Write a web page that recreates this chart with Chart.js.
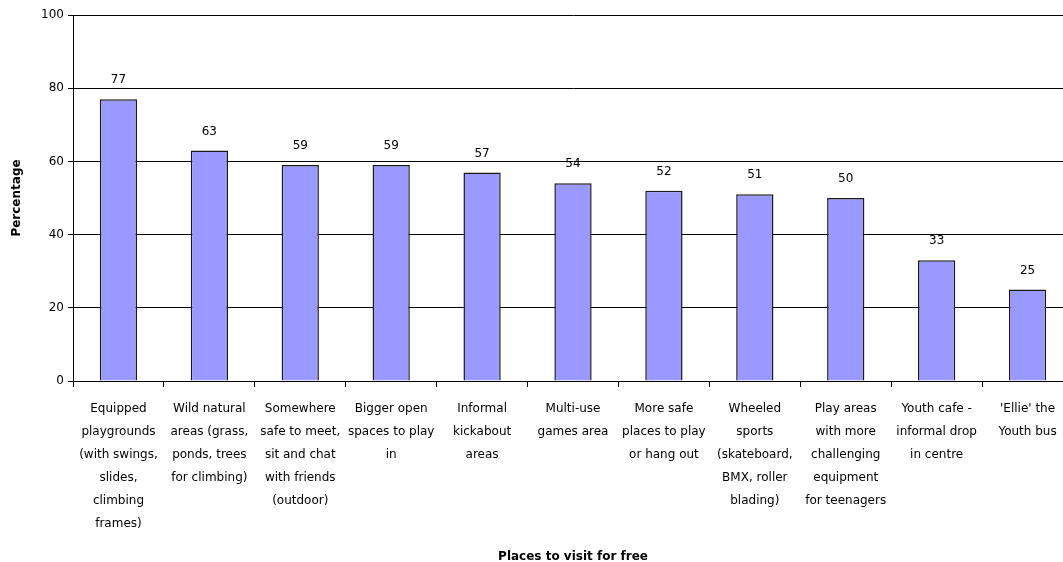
<!DOCTYPE html>
<html lang="en"><head>
<meta charset="utf-8">
<title>Places to visit for free</title>
<script src="https://cdn.jsdelivr.net/npm/chart.js@4"></script>
<style>
*{box-sizing:border-box;margin:0;padding:0}
html,body{width:1063px;height:562px;overflow:hidden;background:#fff}
.wrap{position:relative;width:1073px;height:562px}
</style></head><body>
<div class="wrap"><canvas id="c"></canvas></div>
<script>
const places=[
  ['Equipped','playgrounds','(with swings,','slides,','climbing','frames)'],
  ['Wild natural','areas (grass,','ponds, trees','for climbing)'],
  ['Somewhere','safe to meet,','sit and chat','with friends','(outdoor)'],
  ['Bigger open','spaces to play','in'],
  ['Informal','kickabout','areas'],
  ['Multi-use','games area'],
  ['More safe','places to play','or hang out'],
  ['Wheeled','sports','(skateboard,','BMX, roller','blading)'],
  ['Play areas','with more','challenging','equipment','for teenagers'],
  ['Youth cafe -','informal drop','in centre'],
  ["'Ellie' the",'Youth bus']
];
const percentage=[77,63,59,59,57,54,52,51,50,33,25];
const yTicks=[0,20,40,60,80,100];

const font='"DejaVu Sans", Verdana, sans-serif';

// value labels above each bar
const valueLabels={
  id:'valueLabels',
  afterDatasetsDraw(chart){
    const ctx=chart.ctx;
    const meta=chart.getDatasetMeta(0);
    ctx.save();
    ctx.font='12px '+font;
    ctx.fillStyle='#000';
    ctx.textAlign='center';
    ctx.textBaseline='middle';
    meta.data.forEach((bar,i)=>{
      ctx.fillText(percentage[i],bar.x,bar.y-19);
    });
    ctx.restore();
  }
};

new Chart(document.getElementById('c'),{
  type:'bar',
  data:{labels:places,datasets:[{
    data:percentage,
    backgroundColor:'#9999ff',
    borderColor:'#1a1a1a',
    borderWidth:1.5,
    borderSkipped:'bottom',
    categoryPercentage:1,
    barPercentage:0.41
  }]},
  options:{
    responsive:true,
    maintainAspectRatio:false,
    animation:false,
    layout:{padding:{top:15,left:0,right:0,bottom:0}},
    plugins:{legend:{display:false},tooltip:{enabled:false}},
    scales:{
      x:{
        offset:true,
        grid:{offset:true,drawOnChartArea:false,color:'#000',tickLength:6,tickWidth:1},
        border:{color:'#000',width:1},
        ticks:{color:'#000',font:{family:font,size:12,lineHeight:1.92},maxRotation:0,autoSkip:false,padding:10},
        title:{display:true,text:'Places to visit for free',color:'#000',font:{family:font,size:12,weight:'bold'},padding:{top:0,bottom:-2}},
        afterFit(s){s.height=181}
      },
      y:{
        min:0,max:100,
        afterBuildTicks(s){s.ticks=yTicks.map(v=>({value:v}))},
        grid:{color:'#000',lineWidth:1,tickLength:5},
        border:{color:'#000',width:1},
        ticks:{color:'#000',font:{family:font,size:12},padding:4},
        title:{display:true,text:'Percentage',color:'#000',font:{family:font,size:12,weight:'bold'},padding:{top:10,bottom:0}},
        afterFit(s){s.width=73}
      }
    }
  },
  plugins:[valueLabels]
});
</script></body></html>
